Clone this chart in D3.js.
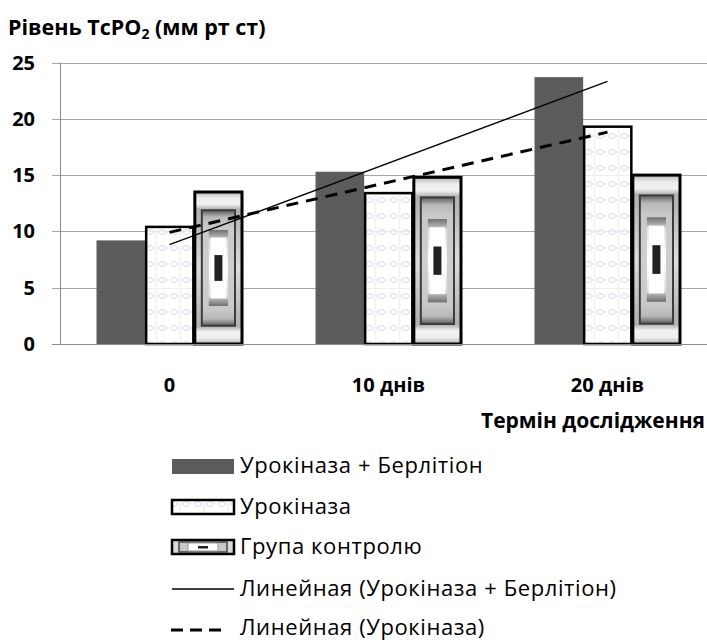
<!DOCTYPE html>
<html>
<head>
<meta charset="utf-8">
<script src="https://cdn.jsdelivr.net/npm/d3@7"></script>
<style>
  html, body { margin: 0; padding: 0; background: #fff; }
  svg text { font-family: "Open Sans", Lato, sans-serif; }
</style>
</head>
<body>
<svg id="chart" width="707" height="640"></svg>
<script>
const categories = ["0", "10 днів", "20 днів"];
const seriesNames = ["Урокіназа + Берлітіон", "Урокіназа", "Група контролю"];
const valsUrokBerl = [9.2, 15.3, 23.7];
const valsUrok = [10.4, 13.4, 19.3];
const valsControl = [13.5, 14.8, 15.0];
const yTicks = [0, 5, 10, 15, 20, 25];
const trendNames = ["Линейная (Урокіназа + Берлітіон)", "Линейная (Урокіназа)"];
const titleMain = "Рівень TcPO";
const titleSub = "2";
const titleRest = " (мм рт ст)";
const xTitle = "Термін дослідження";

const svg = d3.select("#chart");
const defs = svg.append("defs");

// patterns & gradients
const pUro = defs.append("pattern").attr("id", "uro").attr("patternUnits", "userSpaceOnUse")
  .attr("width", 24).attr("height", 16);
pUro.append("rect").attr("width", 24).attr("height", 16).attr("fill", "#ffffff").attr("fill-opacity", 0.82);
pUro.append("path").attr("d", "M2,8 Q6,3 10,8 Q6,13 2,8 M14,8 Q18,3 22,8 Q18,13 14,8")
  .attr("fill", "none").attr("stroke", "#d6d8e4").attr("stroke-width", 1.2);
pUro.append("path").attr("d", "M12,0 L12,16").attr("stroke", "#e6e7ee").attr("stroke-width", 1);

const pDark = defs.append("pattern").attr("id", "dark").attr("patternUnits", "userSpaceOnUse")
  .attr("width", 4).attr("height", 4);
pDark.append("rect").attr("width", 4).attr("height", 4).attr("fill", "#5b5b5b");
pDark.append("rect").attr("x", 1).attr("y", 1).attr("width", 1).attr("height", 1).attr("fill", "#666");

function vgrad(id, stops) {
  const g = defs.append("linearGradient").attr("id", id)
    .attr("x1", 0).attr("y1", 0).attr("x2", 0).attr("y2", 1);
  stops.forEach(s => g.append("stop").attr("offset", s[0]).attr("stop-color", s[1]));
}
vgrad("ctlOuter", [[0, "#b5b5b5"], [0.04, "#eeeeee"], [0.08, "#f2f2f2"], [0.115, "#b0b0b0"],
  [0.5, "#dcdcdc"], [0.885, "#b0b0b0"], [0.92, "#f2f2f2"], [0.96, "#eeeeee"], [1, "#b5b5b5"]]);
vgrad("ctlFrame", [[0, "#5a5a5a"], [0.06, "#b8b8b8"], [0.14, "#c8c8c8"], [0.5, "#cfcfcf"],
  [0.86, "#c8c8c8"], [0.94, "#b8b8b8"], [1, "#5a5a5a"]]);
vgrad("ctlInner", [[0, "#707070"], [0.08, "#a8a8a8"], [0.12, "#e0e0e0"], [0.5, "#ffffff"],
  [0.88, "#e0e0e0"], [0.92, "#a8a8a8"], [1, "#707070"]]);

// scales
const y = d3.scaleLinear().domain([0, 25]).range([344, 62.5]);
const x0 = d3.scaleBand().domain(categories).range([60, 717]).paddingInner(1/3).paddingOuter(1/6);
const x1 = d3.scaleBand().domain([0, 1, 2]).range([0, x0.bandwidth()]).padding(0);

// gridlines
svg.append("g").selectAll("line").data(yTicks).join("line")
  .attr("x1", 52).attr("x2", 707)
  .attr("y1", d => Math.round(y(d)) + 0.5).attr("y2", d => Math.round(y(d)) + 0.5)
  .attr("stroke", "#a6a6a6").attr("stroke-width", 1);
svg.append("line").attr("x1", 60.5).attr("x2", 60.5).attr("y1", y(25)).attr("y2", y(0))
  .attr("stroke", "#8c8c8c");
svg.append("g").selectAll("text").data(yTicks).join("text")
  .attr("x", 35).attr("y", d => y(d) + 7).attr("text-anchor", "end")
  .attr("font-size", 20).attr("font-weight", "bold").attr("fill", "#000").text(d => d);

// bars
const groups = svg.append("g").selectAll("g").data(categories).join("g")
  .attr("transform", d => `translate(${x0(d)},0)`);

groups.append("rect")
  .attr("x", x1(0)).attr("width", x1.bandwidth())
  .attr("y", (d, i) => y(valsUrokBerl[i])).attr("height", (d, i) => y(0) - y(valsUrokBerl[i]))
  .attr("fill", "url(#dark)");
groups.append("rect")
  .attr("x", x1(1) + 1).attr("width", x1.bandwidth() - 1.5)
  .attr("y", (d, i) => y(valsUrok[i])).attr("height", (d, i) => y(0) - y(valsUrok[i]))
  .attr("fill", "url(#uro)").attr("stroke", "#000").attr("stroke-width", 2.5);
groups.each(function (d, i) {
  const g = d3.select(this);
  const bx = x1(2) + 1, bw = x1.bandwidth() - 1.5;
  const top = y(valsControl[i]), h = y(0) - top;
  g.append("rect").attr("x", bx).attr("y", top).attr("width", bw).attr("height", h)
    .attr("fill", "url(#ctlOuter)");
  g.append("rect").attr("x", bx + 7).attr("y", top + h * 0.12).attr("width", bw - 14).attr("height", h * 0.76)
    .attr("fill", "url(#ctlFrame)").attr("stroke", "#3c3c3c").attr("stroke-width", 2);
  g.append("rect").attr("x", bx + 14).attr("y", top + h * 0.25).attr("width", bw - 28).attr("height", h * 0.5)
    .attr("fill", "url(#ctlInner)");
  g.append("rect").attr("x", bx + 16).attr("y", top + h * 0.3).attr("width", bw - 32).attr("height", h * 0.4)
    .attr("fill", "#ffffff");
  g.append("rect").attr("x", bx + bw / 2 - 4).attr("y", top + h * 0.415).attr("width", 8).attr("height", h * 0.17)
    .attr("fill", "#222");
  g.append("rect").attr("x", bx).attr("y", top).attr("width", bw).attr("height", h)
    .attr("fill", "none").attr("stroke", "#000").attr("stroke-width", 3);
});

svg.append("line").attr("x1", 52).attr("x2", 707).attr("y1", 344.5).attr("y2", 344.5).attr("stroke", "#8c8c8c");

// trend lines (least squares over category index)
function fit(vals) {
  const n = vals.length, xs = vals.map((v, i) => i + 1);
  const mx = d3.mean(xs), my = d3.mean(vals);
  const b = d3.sum(xs.map((xv, i) => (xv - mx) * (vals[i] - my))) / d3.sum(xs.map(xv => (xv - mx) ** 2));
  const a = my - b * mx;
  return [[1, a + b], [n, a + b * n]];
}
const cx = i => x0(categories[i - 1]) + x0.bandwidth() / 2;
const line = d3.line().x(p => cx(p[0])).y(p => y(p[1]));
svg.append("path").attr("d", line(fit(valsUrokBerl))).attr("fill", "none")
  .attr("stroke", "#000").attr("stroke-width", 1.3);
svg.append("path").attr("d", line(fit(valsUrok))).attr("fill", "none")
  .attr("stroke", "#000").attr("stroke-width", 3).attr("stroke-dasharray", "12,8");

// x labels
svg.append("g").selectAll("text").data(categories).join("text")
  .attr("x", d => x0(d) + x0.bandwidth() / 2).attr("y", 392).attr("text-anchor", "middle")
  .attr("font-size", 20).attr("font-weight", "bold").text(d => d);
svg.append("text").attr("x", 705).attr("y", 428).attr("text-anchor", "end")
  .attr("font-size", 21).attr("font-weight", "bold").text(xTitle);

// title
const t = svg.append("text").attr("x", 8).attr("y", 35).attr("font-size", 21.5).attr("font-weight", "bold");
t.append("tspan").text(titleMain);
t.append("tspan").attr("font-size", 14).attr("dy", 4).text(titleSub);
t.append("tspan").attr("dy", -4).text(titleRest);

// legend
const legY = [466, 507, 547, 589, 628];
const lg = svg.append("g");
const lx = 172, lw = 62;
lg.append("rect").attr("x", lx).attr("y", legY[0] - 7).attr("width", lw).attr("height", 15).attr("fill", "url(#dark)");
lg.append("rect").attr("x", lx).attr("y", legY[1] - 7).attr("width", lw).attr("height", 14)
  .attr("fill", "url(#uro)").attr("stroke", "#000").attr("stroke-width", 2.5);
lg.append("rect").attr("x", lx).attr("y", legY[2] - 7).attr("width", lw).attr("height", 14)
  .attr("fill", "#d8d8d8").attr("stroke", "#000").attr("stroke-width", 2.5);
lg.append("rect").attr("x", lx + 7).attr("y", legY[2] - 5).attr("width", lw - 14).attr("height", 10)
  .attr("fill", "#c8c8c8").attr("stroke", "#444").attr("stroke-width", 1.5);
lg.append("rect").attr("x", lx + 16).attr("y", legY[2] - 4).attr("width", lw - 32).attr("height", 8)
  .attr("fill", "#fff").attr("stroke", "#999").attr("stroke-width", 1);
lg.append("rect").attr("x", lx + lw / 2 - 5).attr("y", legY[2] - 1).attr("width", 10).attr("height", 2.5).attr("fill", "#222");
lg.append("line").attr("x1", lx).attr("x2", lx + lw).attr("y1", legY[3]).attr("y2", legY[3])
  .attr("stroke", "#000").attr("stroke-width", 1.3);
lg.append("line").attr("x1", lx - 1).attr("x2", lx + 51).attr("y1", legY[4] + 2).attr("y2", legY[4] + 2)
  .attr("stroke", "#000").attr("stroke-width", 3).attr("stroke-dasharray", "12,7");
const legLabels = seriesNames.concat(trendNames);
lg.selectAll("text.l").data(legLabels).join("text").attr("class", "l")
  .attr("x", 240).attr("y", (d, i) => legY[i] + 7).attr("font-size", 22)
  .attr("letter-spacing", 0.6).text(d => d);
</script>
</body>
</html>
